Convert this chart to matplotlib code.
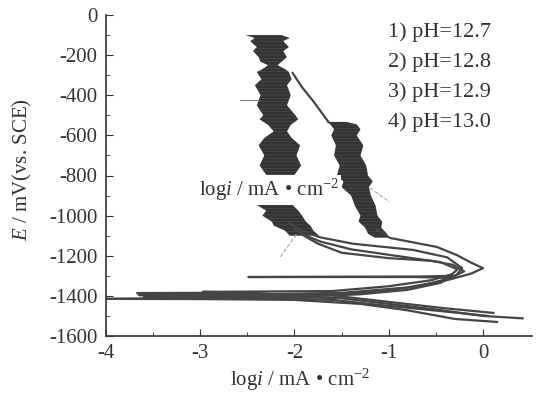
import numpy as np
import matplotlib
matplotlib.use("Agg")
import matplotlib.pyplot as plt

plt.rcParams['font.family'] = ['Liberation Serif', 'DejaVu Serif']
plt.rcParams['mathtext.fontset'] = 'custom'
plt.rcParams['mathtext.rm'] = 'Liberation Serif'
plt.rcParams['mathtext.it'] = 'Liberation Serif:italic'
plt.rcParams['axes.unicode_minus'] = False
plt.rcParams['hatch.linewidth'] = 0.4

# polarization curves: cathodic end -> E_corr spike -> anodic nose -> passive region
c1_x = [0.15, -0.3, -0.8, -1.3, -2.0, -3.0, -4.0, -3.0, -2.0, -1.3, -0.8, -0.45,
        -0.28, -0.22, -0.38, -0.74, -1.38, -1.73, -1.92, -2.05]
c1_E = [-1530, -1515, -1472, -1440, -1420, -1416, -1415, -1411, -1405, -1392, -1370, -1335,
        -1295, -1262, -1208, -1171, -1140, -1108, -1075, -1040]

c2_x = [0.42, 0.0, -0.5, -1.0, -1.5, -2.5, -3.65, -2.5, -1.5, -0.8, -0.35, -0.12,
        0.0, -0.14, -0.28, -0.49, -0.99, -1.12]
c2_E = [-1512, -1500, -1468, -1440, -1412, -1398, -1396, -1393, -1385, -1358, -1318, -1288,
        -1262, -1231, -1196, -1156, -1111, -1070]
c2_top_x = [-1.64, -1.66, -1.80, -1.92, -2.02]
c2_top_E = [-533, -520, -430, -360, -289]

c3_x = [0.11, -0.4, -1.0, -1.6, -2.5, -3.67, -2.5, -2.97, -1.6, -1.0, -0.55, -0.33,
        -0.27, -0.45, -0.9, -1.4, -1.72, -1.88, -2.0]
c3_E = [-1485, -1462, -1430, -1398, -1388, -1386, -1384, -1380, -1376, -1352, -1322, -1292,
        -1268, -1232, -1202, -1168, -1130, -1100, -1070]

c4_x = [0.05, -0.4, -1.0, -1.6, -2.5, -3.6, -2.5, -1.6, -1.0, -0.6, -0.35, -0.74,
        -2.49, -0.74, -0.3, -0.2, -0.32, -0.55, -1.0, -1.5, -1.75, -1.9]
c4_E = [-1500, -1478, -1450, -1420, -1407, -1405, -1402, -1395, -1372, -1345, -1310, -1306,
        -1306, -1304, -1300, -1278, -1245, -1225, -1212, -1185, -1140, -1100]

# noisy passive bands (edges)
lb_E = [-100, -115, -130, -160, -180, -210, -234, -250, -270, -284, -320, -350, -400, -450,
        -500, -520, -548, -580, -613, -650, -700, -750, -797, np.nan,
        -947, -975, -1000, -1030, -1050, -1075, -1100]
lb_xl = [-2.52, -2.42, -2.47, -2.40, -2.44, -2.38, -2.36, -2.28, -2.34, -2.40, -2.35, -2.42,
         -2.36, -2.40, -2.33, -2.37, -2.28, -2.22, -2.32, -2.38, -2.32, -2.37, -2.30, np.nan,
         -2.40, -2.30, -2.34, -2.24, -2.22, -2.10, -2.05]
lb_xr = [-2.14, -2.05, -2.12, -2.06, -2.12, -2.08, -2.14, -2.18, -2.10, -2.06, -2.03, -2.08,
         -2.04, -2.08, -1.99, -1.96, -2.04, -2.08, -2.03, -1.94, -1.98, -1.93, -2.00, np.nan,
         -2.02, -1.96, -1.92, -1.88, -1.83, -1.80, -1.74]

rb_E = [-533, -545, -570, -600, -650, -700, -750, -800, -830, -857, -900, -950,
        -1000, -1030, -1060, -1090, -1110]
rb_xl = [-1.66, -1.62, -1.58, -1.61, -1.56, -1.58, -1.52, -1.55, -1.48, -1.50, -1.40, -1.36,
         -1.30, -1.32, -1.25, -1.22, -1.15]
rb_xr = [-1.45, -1.34, -1.30, -1.34, -1.27, -1.30, -1.24, -1.22, -1.17, -1.21, -1.19, -1.14,
         -1.12, -1.07, -1.08, -1.02, -1.00]

stub_x = [-2.58, -2.38]
stub_E = [-424, -424]

# Tafel extrapolation lines
t1_x = [-2.15, -1.97]
t1_E = [-1206, -1087]
t2_x = [-1.20, -0.99]
t2_E = [-862, -932]

labels = ['1) pH=12.7', '2) pH=12.8', '3) pH=12.9', '4) pH=13.0']

line_c = '#454545'
band_c = '#333333'
text_c = '#333333'

fig = plt.figure(figsize=(5.41, 3.93), dpi=100)
ax = fig.add_axes([106/541, 1 - 336/393, 426/541, 321/393])

for xs, es in [(c1_x, c1_E), (c2_x, c2_E), (c3_x, c3_E), (c4_x, c4_E), (c2_top_x, c2_top_E)]:
    ax.plot(xs, es, color=line_c, lw=1.6)
ax.plot(stub_x, stub_E, color='#777777', lw=0.8)
ax.fill_betweenx(lb_E, lb_xl, lb_xr, facecolor=band_c, edgecolor='#505050',
                 hatch='-----', lw=0)
ax.fill_betweenx(rb_E, rb_xl, rb_xr, facecolor=band_c, edgecolor='#505050',
                 hatch='-----', lw=0)
ax.plot(t1_x, t1_E, color='#aaaaaa', lw=0.8, ls='--')
ax.plot(t2_x, t2_E, color='#aaaaaa', lw=0.8, ls='--')

ax.text(-2.27, -872, r'log$\mathit{i}$ / mA • cm$^{-2}$', fontsize=15, color=text_c,
        ha='center', va='center',
        bbox=dict(facecolor='white', edgecolor='none', pad=1))

ax.set_xlim(-4, 0.52)
ax.set_ylim(-1600, 0)
ax.set_xticks([-4, -3, -2, -1, 0])
ax.set_xticks([-3.5, -2.5, -1.5, -0.5], minor=True)
ax.set_yticks(np.arange(-1600, 1, 200))
ax.set_yticks(np.arange(-1500, 0, 200), minor=True)
ax.spines['top'].set_visible(False)
ax.spines['right'].set_visible(False)
for s in ['left', 'bottom']:
    ax.spines[s].set_color(text_c)
    ax.spines[s].set_linewidth(1.2)
ax.tick_params(which='both', direction='in', colors=text_c, labelsize=15, pad=6)
ax.tick_params(which='major', length=5)
ax.tick_params(which='minor', length=3)

fig.text(300/541, 1 - 380/393, r'log$\mathit{i}$ / mA • cm$^{-2}$', fontsize=15,
         color=text_c, ha='center', va='center')
fig.text(22/541, 1 - 170/393, r'$\mathit{E}$ / mV(vs. SCE)', fontsize=15,
         color=text_c, ha='center', va='center', rotation=90)

for k, lab in enumerate(labels):
    fig.text(388/541, 1 - (32 + 30*k)/393, lab, fontsize=16, color=text_c,
             ha='left', va='center')

fig.savefig('out.png', dpi=100, facecolor='white')
